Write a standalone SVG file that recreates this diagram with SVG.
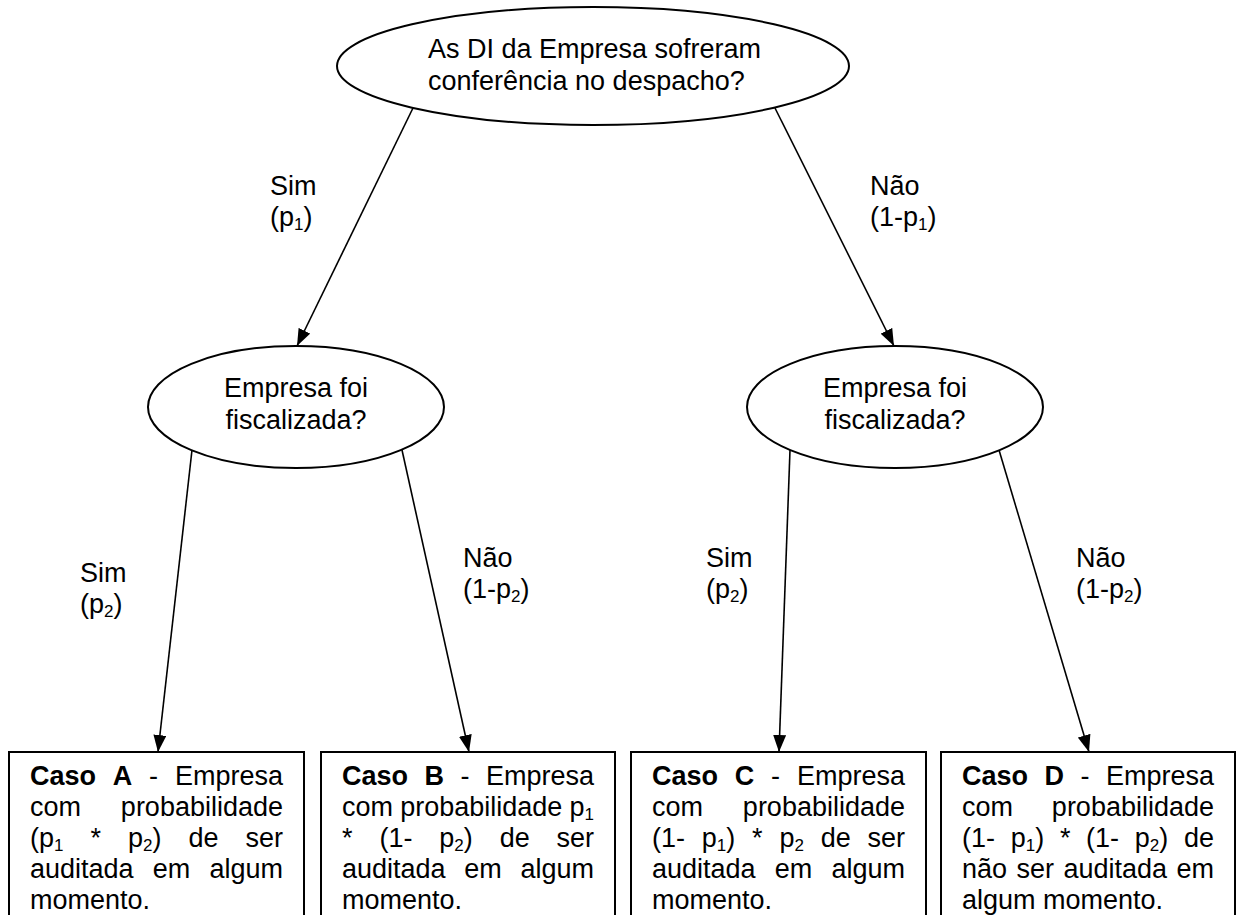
<svg xmlns="http://www.w3.org/2000/svg" width="1242" height="915" viewBox="0 0 1242 915">
<defs>
<style>
.t{font-family:"Liberation Sans",Arial,sans-serif;font-size:27px;fill:#000}
.b{font-weight:bold}
.m{text-anchor:middle}
.e{text-anchor:end}
.node{fill:#fff;stroke:#000;stroke-width:2}
.conn{stroke:#000;stroke-width:1.6;fill:none;marker-end:url(#ah)}
.s{font-size:17px}
</style>
<marker id="ah" viewBox="0 0 17 13" refX="17" refY="6.5" markerWidth="17" markerHeight="13" markerUnits="userSpaceOnUse" orient="auto">
<path d="M0,0 L17,6.5 L0,13 z" fill="#000"/>
</marker>
</defs>
<rect width="1242" height="915" fill="#fff"/>

<g id="connectors">
<line class="conn" x1="413" y1="108" x2="297" y2="346"/>
<line class="conn" x1="775" y1="108" x2="894" y2="346"/>
<line class="conn" x1="192" y1="450" x2="158" y2="752"/>
<line class="conn" x1="402" y1="450" x2="469" y2="752"/>
<line class="conn" x1="790" y1="450" x2="779" y2="752"/>
<line class="conn" x1="999" y1="450" x2="1089" y2="752"/>
</g>

<g id="labels">
<text class="t" x="270" y="195">Sim</text>
<text class="t" x="270" y="226">(p<tspan class="s" dy="4">1</tspan><tspan dy="-4">)</tspan></text>
<text class="t" x="870" y="195">Não</text>
<text class="t" x="870" y="226">(1-p<tspan class="s" dy="4">1</tspan><tspan dy="-4">)</tspan></text>
<text class="t" x="80" y="582">Sim</text>
<text class="t" x="80" y="613">(p<tspan class="s" dy="4">2</tspan><tspan dy="-4">)</tspan></text>
<text class="t" x="463" y="567">Não</text>
<text class="t" x="463" y="598">(1-p<tspan class="s" dy="4">2</tspan><tspan dy="-4">)</tspan></text>
<text class="t" x="706" y="567">Sim</text>
<text class="t" x="706" y="598">(p<tspan class="s" dy="4">2</tspan><tspan dy="-4">)</tspan></text>
<text class="t" x="1076" y="567">Não</text>
<text class="t" x="1076" y="598">(1-p<tspan class="s" dy="4">2</tspan><tspan dy="-4">)</tspan></text>
</g>

<g id="root">
<ellipse class="node" cx="593" cy="66" rx="256" ry="59"/>
<text class="t" x="428" y="58">As DI da Empresa sofreram</text>
<text class="t" x="428" y="90">conferência no despacho?</text>
</g>

<g id="fisc-left">
<ellipse class="node" cx="296" cy="407" rx="148" ry="61"/>
<text class="t m" x="296" y="397">Empresa foi</text>
<text class="t m" x="296" y="429">fiscalizada?</text>
</g>

<g id="fisc-right">
<ellipse class="node" cx="895" cy="407" rx="148" ry="61"/>
<text class="t m" x="895" y="397">Empresa foi</text>
<text class="t m" x="895" y="429">fiscalizada?</text>
</g>

<g id="caso-a">
<rect class="node" x="9" y="752" width="295" height="200"/>
<text class="t b" x="30" y="785">Caso</text>
<text class="t b" x="112.8" y="785">A</text>
<text class="t" x="149.1" y="785">-</text>
<text class="t e" x="283" y="785">Empresa</text>
<text class="t" x="30" y="816">com</text>
<text class="t e" x="283" y="816">probabilidade</text>
<text class="t" x="30" y="847">(p<tspan class="s" dy="4">1</tspan></text>
<text class="t" x="90.5" y="847">*</text>
<text class="t" x="128" y="847">p<tspan class="s" dy="4">2</tspan><tspan dy="-4">)</tspan></text>
<text class="t" x="188.5" y="847">de</text>
<text class="t e" x="283" y="847">ser</text>
<text class="t" x="30" y="878">auditada</text>
<text class="t" x="152.8" y="878">em</text>
<text class="t e" x="283" y="878">algum</text>
<text class="t" x="30" y="909">momento.</text>
</g>

<g id="caso-b">
<rect class="node" x="321" y="752" width="294" height="200"/>
<text class="t b" x="342" y="785">Caso</text>
<text class="t b" x="424.5" y="785">B</text>
<text class="t" x="460.5" y="785">-</text>
<text class="t e" x="594" y="785">Empresa</text>
<text class="t" x="342" y="816">com</text>
<text class="t" x="400.2" y="816">probabilidade</text>
<text class="t e" x="594" y="816">p<tspan class="s" dy="4">1</tspan></text>
<text class="t" x="342" y="847">*</text>
<text class="t" x="379.4" y="847">(1-</text>
<text class="t" x="439.3" y="847">p<tspan class="s" dy="4">2</tspan><tspan dy="-4">)</tspan></text>
<text class="t" x="499.7" y="847">de</text>
<text class="t e" x="594" y="847">ser</text>
<text class="t" x="342" y="878">auditada</text>
<text class="t" x="464.3" y="878">em</text>
<text class="t e" x="594" y="878">algum</text>
<text class="t" x="342" y="909">momento.</text>
</g>

<g id="caso-c">
<rect class="node" x="631" y="752" width="295" height="200"/>
<text class="t b" x="652" y="785">Caso</text>
<text class="t b" x="734.8" y="785">C</text>
<text class="t" x="771.1" y="785">-</text>
<text class="t e" x="905" y="785">Empresa</text>
<text class="t" x="652" y="816">com</text>
<text class="t e" x="905" y="816">probabilidade</text>
<text class="t" x="652" y="847">(1-</text>
<text class="t" x="701.8" y="847">p<tspan class="s" dy="4">1</tspan><tspan dy="-4">)</tspan></text>
<text class="t" x="752.1" y="847">*</text>
<text class="t" x="779.4" y="847">p<tspan class="s" dy="4">2</tspan></text>
<text class="t" x="820.7" y="847">de</text>
<text class="t e" x="905" y="847">ser</text>
<text class="t" x="652" y="878">auditada</text>
<text class="t" x="774.8" y="878">em</text>
<text class="t e" x="905" y="878">algum</text>
<text class="t" x="652" y="909">momento.</text>
</g>

<g id="caso-d">
<rect class="node" x="941" y="752" width="294" height="200"/>
<text class="t b" x="962" y="785">Caso</text>
<text class="t b" x="1044.5" y="785">D</text>
<text class="t" x="1080.5" y="785">-</text>
<text class="t e" x="1214" y="785">Empresa</text>
<text class="t" x="962" y="816">com</text>
<text class="t e" x="1214" y="816">probabilidade</text>
<text class="t" x="962" y="847">(1-</text>
<text class="t" x="1010.7" y="847">p<tspan class="s" dy="4">1</tspan><tspan dy="-4">)</tspan></text>
<text class="t" x="1059.9" y="847">*</text>
<text class="t" x="1086.1" y="847">(1-</text>
<text class="t" x="1134.8" y="847">p<tspan class="s" dy="4">2</tspan><tspan dy="-4">)</tspan></text>
<text class="t e" x="1214" y="847">de</text>
<text class="t" x="962" y="878">não</text>
<text class="t" x="1016.5" y="878">ser</text>
<text class="t" x="1063.5" y="878">auditada</text>
<text class="t e" x="1214" y="878">em</text>
<text class="t" x="962" y="909">algum momento.</text>
</g>
</svg>
